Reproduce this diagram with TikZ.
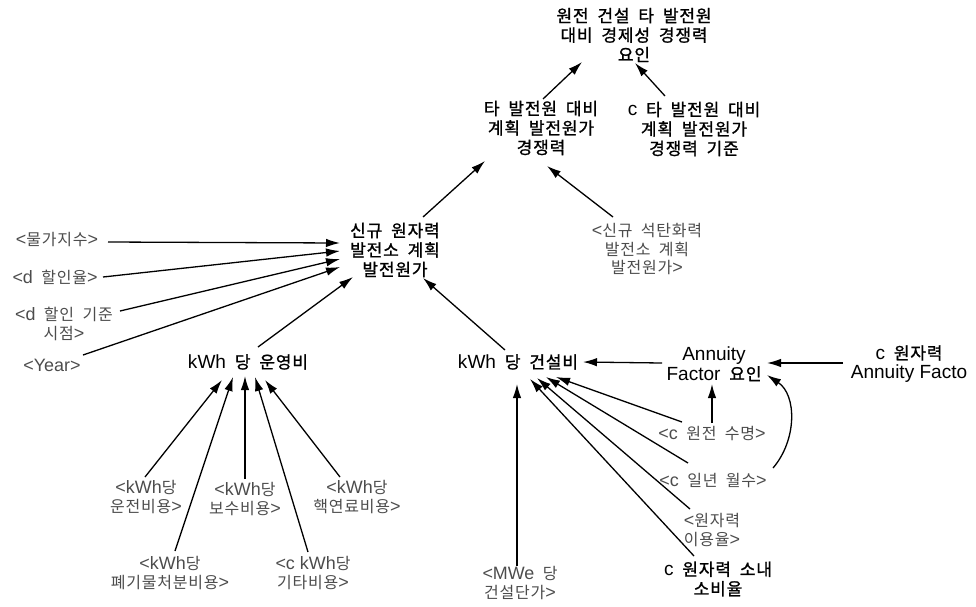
\documentclass[tikz,border=0pt]{standalone}
\usepackage{fontspec}
\setmainfont{Noto Sans CJK KR}[LetterSpace=5,WordSpace=1.9]
\newfontfamily\boldk{Noto Sans CJK KR}[LetterSpace=5,WordSpace=1.9,FakeBold=1.2]
\newfontfamily\latf{Liberation Sans}[Scale=1.12]
\newcommand\lt[1]{{\latf #1}}
\usetikzlibrary{arrows.meta,calc}
\tikzset{
  mv/.style={align=center,inner sep=0pt,font=\boldk\fontsize{17}{19.5}\selectfont},
  sv/.style={align=center,inner sep=0pt,text=black!70,font=\fontsize{16}{18.5}\selectfont},
  arr/.style={draw,line width=1.3pt,-{Latex[length=14pt,width=8.5pt]}}
}
\begin{document}
\begin{tikzpicture}[x=1pt,y=-1pt]
\useasboundingbox (0,0) rectangle (976,606);
% main variables
\node[mv] (top) at (634,35) {원전 건설 타 발전원\\대비 경제성 경쟁력\\요인};
\node[mv] (comp) at (541,128) {타 발전원 대비\\계획 발전원가\\경쟁력};
\node[mv] (ccomp) at (694,129) {\lt{c} 타 발전원 대비\\계획 발전원가\\경쟁력 기준};
\node[mv] (new) at (395,250) {신규 원자력\\발전소 계획\\발전원가};
\node[mv] (opex) at (248,362) {\lt{kWh} 당 운영비};
\node[mv] (capex) at (518,362) {\lt{kWh} 당 건설비};
\node[mv] (af) at (714,364) {\lt{Annuity}\\\lt{Factor} 요인};
\node[mv] (caf) at (909,364) {\lt{c} 원자력\\\lt{Annuity Facto}};
\node[mv] (house) at (718,579) {\lt{c} 원자력 소내\\소비율};
% shadow variables
\node[sv] (coal) at (647,249) {\lt{<}신규 석탄화력\\발전소 계획\\발전원가\lt{>}};
\node[sv] (price) at (57,240) {\lt{<}물가지수\lt{>}};
\node[sv] (disc) at (55,277) {\lt{<d} 할인율\lt{>}};
\node[sv] (dbase) at (64,324) {\lt{<d} 할인 기준\\시점\lt{>}};
\node[sv] (year) at (52,365) {\lt{<Year>}};
\node[sv] (life) at (712,433) {\lt{<c} 원전 수명\lt{>}};
\node[sv] (month) at (713,480) {\lt{<c} 일년 월수\lt{>}};
\node[sv] (util) at (712,530) {\lt{<}원자력\\이용율\lt{>}};
\node[sv] (mwe) at (520,583) {\lt{<MWe} 당\\건설단가\lt{>}};
\node[sv] (oper) at (146,497) {\lt{<kWh}당\\운전비용\lt{>}};
\node[sv] (waste) at (170,573) {\lt{<kWh}당\\폐기물처분비용\lt{>}};
\node[sv] (maint) at (245,499) {\lt{<kWh}당\\보수비용\lt{>}};
\node[sv] (etc) at (313,573) {\lt{<c kWh}당\\기타비용\lt{>}};
\node[sv] (fuel) at (357,497) {\lt{<kWh}당\\핵연료비용\lt{>}};
% connectors
\draw[arr] ($(comp)+(2,-29)$) -- ($(top)+(-52,27)$);
\draw[arr] ($(ccomp)+(-29,-33)$) -- ($(top)+(1,28)$);
\draw[arr] ($(new)+(28,-33)$) -- ($(comp)+(-56,33)$);
\draw[arr] ($(coal)+(-34,-32)$) -- ($(comp)+(6,38)$);
\draw[arr] ($(price)+(51,2)$) -- ($(new)+(-55,-7)$);
\draw[arr] ($(disc)+(48,0)$) -- ($(new)+(-55,1)$);
\draw[arr] ($(dbase)+(56,-13)$) -- ($(new)+(-55,9)$);
\draw[arr] ($(year)+(31,-10)$) -- ($(new)+(-55,17)$);
\draw[arr] ($(opex)+(10,-15)$) -- ($(new)+(-42,27)$);
\draw[arr] ($(capex)+(-13,-12)$) -- ($(new)+(28,28)$);
\draw[arr] ($(oper)+(-1,-20)$) -- ($(opex)+(-26,18)$);
\draw[arr] ($(waste)+(5,-22)$) -- ($(opex)+(-15,15)$);
\draw[arr] ($(maint)+(0,-20)$) -- ($(opex)+(-3,14)$);
\draw[arr] ($(etc)+(-5,-21)$) -- ($(opex)+(7,15)$);
\draw[arr] ($(fuel)+(-17,-20)$) -- ($(opex)+(17,18)$);
\draw[arr] ($(af)+(-52,-1)$) -- ($(capex)+(65,0)$);
\draw[arr] ($(caf)+(-66,-1)$) -- ($(af)+(53,-1)$);
\draw[arr] ($(life)+(0,-10)$) -- ($(af)+(-2,20)$);
\draw[arr] ($(life)+(-30,-11)$) -- ($(capex)+(38,15)$);
\draw[arr] ($(month)+(-25,-17)$) -- ($(capex)+(28,15)$);
\draw[arr] ($(util)+(-22,-21)$) -- ($(capex)+(19,16)$);
\draw[arr] ($(house)+(-24,-23)$) -- ($(capex)+(12,17)$);
\draw[arr] ($(mwe)+(-3,-17)$) -- ($(capex)+(-1,22)$);
\draw[arr] ($(month)+(60,-12)$) .. controls ($(month)+(84,-40)$) and ($(af)+(83,31)$) .. ($(af)+(53,11)$);
\end{tikzpicture}
\end{document}
